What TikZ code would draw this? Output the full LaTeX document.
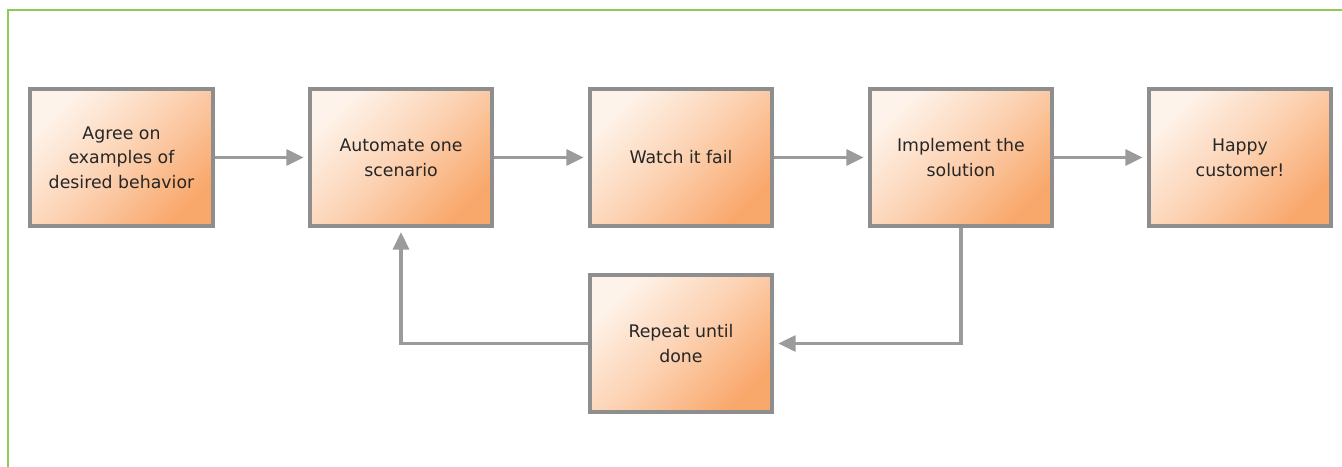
\documentclass[tikz,border=0pt]{standalone}
\usepackage{fontspec}
\setmainfont{DejaVu Sans}
\usetikzlibrary{arrows.meta}
\definecolor{boxlight}{HTML}{FEF3EA}
\definecolor{boxdark}{HTML}{F9A86C}
\definecolor{boxline}{HTML}{8E8E8E}
\definecolor{flowline}{HTML}{9B9B9B}
\definecolor{framegreen}{HTML}{8DCB55}
\tikzset{
  stepbox/.style={draw=boxline, line width=3pt, top color=boxlight,
    bottom color=boxdark, middle color=boxlight!55!boxdark,
    shading angle=45, minimum width=137pt,
    minimum height=103pt, inner sep=0pt, align=center,
    font=\fontsize{13}{18.5}\selectfont, text=black!85},
  flow/.style={draw=flowline, line width=2.3pt,
    -{Triangle[length=13pt,width=12pt]}, shorten >=3pt}
}
\begin{document}
\begin{tikzpicture}[x=0.75pt,y=0.75pt]
\useasboundingbox (0,0) rectangle (1342,-467);
% frame
\draw [framegreen, line width=1.6pt] (8,-467) -- (8,-10) -- (1342,-10);
% top row
\node [stepbox] (agree) at (121.5,-157.5) {Agree on\\examples of\\desired behavior};
\node [stepbox] (automate) at (401,-157.5) {Automate one\\scenario};
\node [stepbox] (watch) at (681,-157.5) {Watch it fail};
\node [stepbox] (implement) at (961,-157.5) {Implement the\\solution};
\node [stepbox] (happy) at (1240,-157.5) {Happy\\customer!};
% loop
\node [stepbox] (repeat) at (681,-343.5) {Repeat until\\done};
\draw [flow] (agree) -- (automate);
\draw [flow] (automate) -- (watch);
\draw [flow] (watch) -- (implement);
\draw [flow] (implement) -- (happy);
\draw [flow] (implement.south) |- (repeat.east);
\draw [flow] (repeat.west) -| (automate.south);
\end{tikzpicture}
\end{document}
